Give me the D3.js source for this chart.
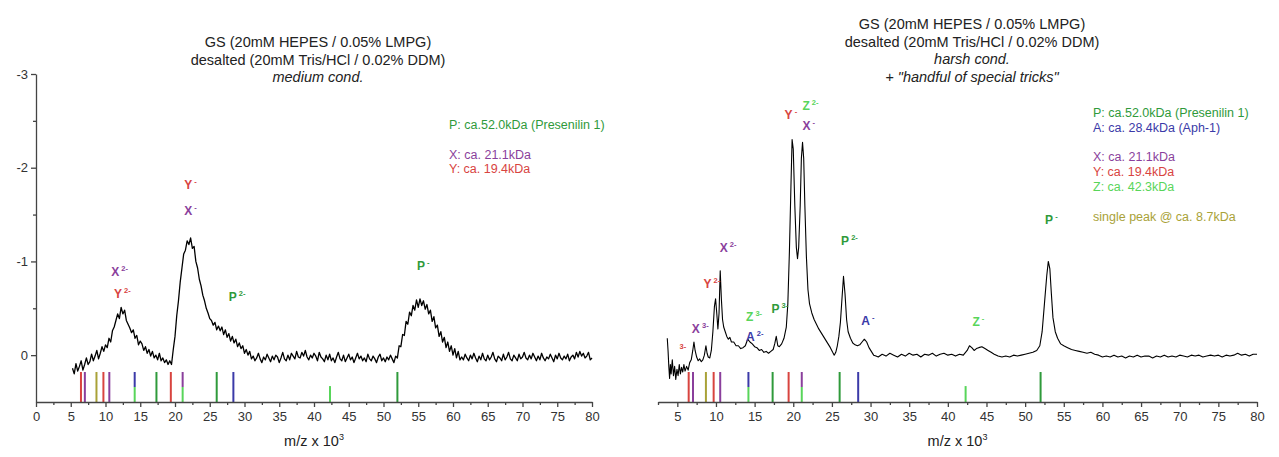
<!DOCTYPE html>
<html>
<head>
<meta charset="utf-8">
<script src="https://cdn.jsdelivr.net/npm/d3@7"></script>
<style>
  html, body { margin: 0; padding: 0; background: #fff; }
  svg { display: block; font-family: "Liberation Sans", Arial, sans-serif; }
  .axis path, .axis line { stroke: #444; stroke-width: 1.3; }
  .axis text { fill: #333; font-size: 13px; font-family: "Liberation Sans", Arial, sans-serif; }
  .title { fill: #222; font-size: 14.5px; text-anchor: middle; }
  .legend { font-size: 12.5px; }
  .peak { font-weight: bold; font-size: 12px; }
</style>
</head>
<body>
<svg id="chart" width="1279" height="457"></svg>
<script>
// ---- colours of the species ----
const colors = {
  P: "#2f9a3b",   // Presenilin 1
  A: "#3b3aa8",   // Aph-1
  X: "#8a3f9c",
  Y: "#d8443f",
  Z: "#58d55a",
  S: "#a9a238"    // single peak 8.7 kDa
};

// ---- left spectrum (medium cond.), rows of 4 samples, x = row + 0.25 .. row + 1 ----
const leftFirstRow = 5;
const leftRows = [
  [0.14, 0.2, 0.09, 0.17],      // 5
  [0.12, 0.06, 0.16, 0.1],      // 6
  [0.03, 0.1, 0.07, -0.01],     // 7
  [0.06, 0.01, -0.05, 0.04],    // 8
  [-0.02, -0.09, -0.04, -0.11], // 9
  [-0.08, -0.18, -0.14, -0.26], // 10
  [-0.3, -0.37, -0.44, -0.39],  // 11
  [-0.51, -0.44, -0.48, -0.37], // 12
  [-0.33, -0.29, -0.24, -0.27], // 13
  [-0.18, -0.21, -0.11, -0.15], // 14
  [-0.12, -0.05, -0.09, -0.02], // 15
  [-0.06, 0.01, -0.04, 0.03],   // 16
  [0.0, 0.05, -0.02, 0.06],     // 17
  [0.03, 0.08, 0.05, 0.1],      // 18
  [0.06, 0.1, -0.06, -0.2],     // 19
  [-0.42, -0.58, -0.78, -0.93], // 20
  [-1.08, -1.12, -1.22, -1.18], // 21
  [-1.25, -1.14, -1.16, -1.0],  // 22
  [-0.93, -0.81, -0.74, -0.64], // 23
  [-0.58, -0.5, -0.45, -0.39],  // 24
  [-0.37, -0.32, -0.35, -0.27], // 25
  [-0.31, -0.26, -0.3, -0.22],  // 26
  [-0.27, -0.19, -0.23, -0.15], // 27
  [-0.2, -0.13, -0.17, -0.09],  // 28
  [-0.13, -0.07, -0.1, -0.02],  // 29
  [-0.06, 0.0, -0.04, 0.04],    // 30
  [0.01, 0.06, 0.03, -0.02],    // 31
  [0.04, 0.08, 0.02, 0.05],     // 32
  [-0.01, 0.03, 0.07, 0.01],    // 33
  [0.05, 0.0, 0.02, 0.08],      // 34
  [0.03, -0.03, 0.04, 0.06],    // 35
  [0.0, 0.05, -0.02, 0.01],     // 36
  [0.04, -0.04, 0.02, 0.03],    // 37
  [-0.03, 0.01, -0.05, 0.02],   // 38
  [0.05, 0.0, 0.03, -0.02],     // 39
  [0.01, 0.06, -0.03, 0.02],    // 40
  [0.04, 0.07, 0.0, 0.05],      // 41
  [-0.01, 0.06, 0.03, 0.08],    // 42
  [0.02, -0.03, 0.04, 0.06],    // 43
  [0.0, 0.07, 0.03, -0.01],     // 44
  [0.05, 0.02, 0.08, 0.03],     // 45
  [-0.02, 0.04, 0.01, 0.06],    // 46
  [0.03, 0.07, -0.01, 0.04],    // 47
  [0.06, 0.01, 0.04, 0.08],     // 48
  [0.02, -0.01, 0.06, 0.03],    // 49
  [0.07, 0.02, 0.05, 0.0],      // 50
  [0.04, 0.08, 0.01, 0.03],     // 51
  [-0.1, -0.09, -0.22, -0.21],  // 52
  [-0.36, -0.33, -0.46, -0.42], // 53
  [-0.53, -0.48, -0.59, -0.51], // 54
  [-0.6, -0.53, -0.58, -0.49],  // 55
  [-0.54, -0.44, -0.48, -0.36], // 56
  [-0.41, -0.29, -0.32, -0.2],  // 57
  [-0.25, -0.14, -0.19, -0.08], // 58
  [-0.14, -0.04, -0.1, 0.0],    // 59
  [-0.07, 0.03, -0.04, 0.05],   // 60
  [0.02, 0.05, -0.01, 0.03],    // 61
  [0.06, 0.0, 0.04, -0.02],     // 62
  [0.03, 0.07, 0.01, 0.05],     // 63
  [-0.02, 0.04, 0.06, 0.0],     // 64
  [0.05, 0.02, -0.03, 0.04],    // 65
  [0.07, 0.01, 0.03, 0.06],     // 66
  [-0.01, 0.05, 0.02, -0.03],   // 67
  [0.04, 0.06, 0.0, 0.03],      // 68
  [0.06, -0.01, 0.04, 0.02],    // 69
  [-0.03, 0.03, 0.05, 0.0],     // 70
  [0.04, -0.02, 0.02, 0.06],    // 71
  [0.01, 0.05, -0.02, 0.03],    // 72
  [0.06, 0.02, 0.04, -0.01],    // 73
  [0.03, 0.07, 0.0, 0.04],      // 74
  [-0.02, 0.03, 0.05, 0.01],    // 75
  [0.04, -0.01, 0.06, 0.02],    // 76
  [0.0, 0.04, -0.03, 0.02],     // 77
  [-0.04, 0.01, -0.02, 0.03],   // 78
  [0.01, -0.03, 0.05, 0.03]     // 79
];

// ---- right spectrum (harsh cond.), [m/z x 10^3, signal] ----
const rightTrace = [
  [3.7, -0.18], [3.8, -0.05], [3.9, 0.12], [4.0, 0.25], [4.1, 0.1], [4.2, 0.2], [4.35, 0.05],
  [4.5, 0.22], [4.65, 0.12], [4.8, 0.26], [4.95, 0.15], [5.1, 0.22], [5.25, 0.1], [5.4, 0.2],
  [5.55, 0.13], [5.7, 0.18], [5.85, 0.1], [6.0, 0.17], [6.2, 0.12], [6.4, 0.16], [6.6, 0.08],
  [6.8, 0.05], [7.0, -0.05], [7.15, -0.14], [7.3, -0.05], [7.5, 0.02], [7.7, 0.06], [7.9, 0.04],
  [8.1, 0.07], [8.3, 0.05], [8.5, 0.0], [8.7, -0.1], [8.85, -0.02], [9.0, 0.02], [9.2, 0.03],
  [9.4, -0.05], [9.6, -0.25], [9.8, -0.52], [9.95, -0.6], [10.1, -0.45], [10.25, -0.28],
  [10.4, -0.45], [10.55, -0.9], [10.7, -0.6], [10.85, -0.38], [11.0, -0.3], [11.2, -0.25],
  [11.4, -0.2], [11.6, -0.17], [11.8, -0.19], [12.0, -0.14], [12.3, -0.14], [12.6, -0.1],
  [12.9, -0.1], [13.2, -0.07], [13.5, -0.08], [13.8, -0.1], [14.1, -0.17], [14.4, -0.14],
  [14.7, -0.12], [15.0, -0.09], [15.3, -0.08], [15.6, -0.05], [15.9, -0.06], [16.2, -0.03],
  [16.5, -0.04], [16.8, -0.02], [17.1, -0.04], [17.4, -0.06], [17.6, -0.12], [17.8, -0.2],
  [18.0, -0.1], [18.2, -0.09], [18.5, -0.12], [18.8, -0.18], [19.1, -0.3], [19.3, -0.55],
  [19.5, -1.1], [19.7, -1.8], [19.85, -2.3], [20.0, -2.2], [20.2, -1.6], [20.4, -1.15],
  [20.55, -1.03], [20.7, -1.15], [20.9, -1.6], [21.05, -2.1], [21.2, -2.27], [21.35, -2.1],
  [21.5, -1.6], [21.7, -1.05], [21.9, -0.7], [22.1, -0.55], [22.4, -0.45], [22.7, -0.38],
  [23.0, -0.33], [23.3, -0.28], [23.6, -0.24], [23.9, -0.2], [24.2, -0.16], [24.5, -0.12],
  [24.8, -0.08], [25.1, -0.03], [25.3, 0.0], [25.5, -0.03], [25.7, -0.1], [25.9, -0.2],
  [26.1, -0.35], [26.3, -0.6], [26.5, -0.84], [26.7, -0.65], [26.9, -0.38], [27.1, -0.25],
  [27.4, -0.18], [27.7, -0.13], [28.0, -0.11], [28.3, -0.1], [28.6, -0.11], [28.9, -0.14],
  [29.2, -0.17], [29.5, -0.14], [29.8, -0.08], [30.1, -0.04], [30.4, 0.0], [30.7, 0.01],
  [31.0, 0.02], [31.5, -0.01], [32.0, 0.01], [32.5, -0.02], [33.0, 0.0], [33.5, 0.02],
  [34.0, -0.01], [34.5, 0.01], [35.0, -0.02], [35.5, 0.0], [36.0, -0.01], [36.5, 0.02],
  [37.0, -0.01], [37.5, 0.0], [38.0, -0.02], [38.5, 0.01], [39.0, -0.01], [39.5, -0.02],
  [40.0, 0.0], [40.5, -0.01], [41.0, 0.01], [41.5, -0.01], [42.0, 0.0], [42.5, -0.05],
  [42.8, -0.1], [43.1, -0.08], [43.4, -0.05], [43.7, -0.07], [44.0, -0.08], [44.4, -0.09],
  [44.8, -0.07], [45.2, -0.05], [45.6, -0.03], [46.0, -0.01], [46.5, 0.01], [47.0, 0.02],
  [47.5, 0.01], [48.0, 0.02], [48.5, 0.0], [49.0, 0.01], [49.5, 0.0], [50.0, -0.01],
  [50.5, -0.02], [51.0, -0.03], [51.5, -0.05], [51.9, -0.1], [52.2, -0.25], [52.5, -0.55],
  [52.8, -0.85], [53.0, -1.0], [53.2, -0.92], [53.4, -0.65], [53.6, -0.4], [53.9, -0.25],
  [54.2, -0.18], [54.6, -0.12], [55.0, -0.1], [55.5, -0.08], [56.0, -0.06], [56.5, -0.05],
  [57.0, -0.04], [57.5, -0.03], [58.0, -0.02], [58.5, -0.03], [59.0, -0.01], [59.5, 0.0],
  [60.0, 0.02], [60.5, 0.01], [61.0, 0.02], [61.5, 0.0], [62.0, 0.02], [62.5, 0.01],
  [63.0, 0.03], [63.5, 0.01], [64.0, 0.02], [64.5, 0.0], [65.0, 0.02], [65.5, 0.01],
  [66.0, 0.01], [66.5, 0.03], [67.0, 0.01], [67.5, 0.02], [68.0, 0.0], [68.5, 0.02],
  [69.0, 0.01], [69.5, 0.02], [70.0, 0.0], [70.5, 0.01], [71.0, 0.02], [71.5, 0.0],
  [72.0, 0.01], [72.5, 0.0], [73.0, 0.02], [73.5, 0.01], [74.0, 0.0], [74.5, 0.01],
  [75.0, 0.0], [75.5, 0.02], [76.0, 0.0], [76.5, 0.01], [77.0, 0.0], [77.5, -0.02],
  [78.0, 0.0], [78.5, -0.01], [79.0, 0.01], [79.5, -0.01], [80.0, -0.01]
];

// ---- theoretical positions (bars above the x axis) ----
const markers = [
  { x: 6.47, c: "Y" }, { x: 7.03, c: "X" }, { x: 8.7, c: "S" }, { x: 9.7, c: "Y" },
  { x: 10.55, c: "X" }, { x: 14.2, c: "A", low: "Z" }, { x: 17.33, c: "P" }, { x: 19.4, c: "Y" },
  { x: 21.1, c: "X", low: "Z" }, { x: 26.0, c: "P" }, { x: 28.4, c: "A" },
  { x: 42.3, c: "Z", short: true }, { x: 52.0, c: "P" }
];

// ---- peak annotations ----
const leftPeaks = [
  { x: 21.9, v: -1.82, t: "Y", s: "-", c: "Y" },
  { x: 21.9, v: -1.54, t: "X", s: "-", c: "X" },
  { x: 11.4, v: -0.89, t: "X", s: "2-", c: "X" },
  { x: 11.8, v: -0.65, t: "Y", s: "2-", c: "Y" },
  { x: 28.3, v: -0.62, t: "P", s: "2-", c: "P" },
  { x: 55.4, v: -0.95, t: "P", s: "-", c: "P" }
];
const rightPeaks = [
  { x: 19.4, v: -2.56, t: "Y", s: "-", c: "Y" },
  { x: 21.7, v: -2.66, t: "Z", s: "2-", c: "Z" },
  { x: 21.7, v: -2.45, t: "X", s: "-", c: "X" },
  { x: 11.0, v: -1.14, t: "X", s: "2-", c: "X" },
  { x: 8.9, v: -0.76, t: "Y", s: "2-", c: "Y" },
  { x: 7.4, v: -0.28, t: "X", s: "3-", c: "X" },
  { x: 5.8, v: -0.06, t: "", s: "3-", c: "Y" },
  { x: 14.4, v: -0.41, t: "Z", s: "3-", c: "Z" },
  { x: 17.7, v: -0.49, t: "P", s: "3-", c: "P" },
  { x: 14.4, v: -0.19, t: "A", s: "2-", c: "A" },
  { x: 26.7, v: -1.22, t: "P", s: "2-", c: "P" },
  { x: 29.3, v: -0.36, t: "A", s: "-", c: "A" },
  { x: 43.7, v: -0.35, t: "Z", s: "-", c: "Z" },
  { x: 53.1, v: -1.44, t: "P", s: "-", c: "P" }
];

// ---- legends and titles ----
const leftLegend = [
  ["P: ca.52.0kDa (Presenilin 1)", "P"], null,
  ["X: ca. 21.1kDa", "X"], ["Y: ca. 19.4kDa", "Y"]
];
const rightLegend = [
  ["P: ca.52.0kDa (Presenilin 1)", "P"], ["A: ca. 28.4kDa (Aph-1)", "A"], null,
  ["X: ca. 21.1kDa", "X"], ["Y: ca. 19.4kDa", "Y"], ["Z: ca. 42.3kDa", "Z"], null,
  ["single peak @ ca. 8.7kDa", "S"]
];
const leftTitle = [
  ["GS (20mM HEPES / 0.05% LMPG)", false],
  ["desalted (20mM Tris/HCl / 0.02% DDM)", false],
  ["medium cond.", true]
];
const rightTitle = [
  ["GS (20mM HEPES / 0.05% LMPG)", false],
  ["desalted (20mM Tris/HCl / 0.02% DDM)", false],
  ["harsh cond.", true],
  ["+ \"handful of special tricks\"", true]
];
const majorX = d3.range(0, 81, 5);
const minorX = d3.range(2.5, 80, 5);
const majorY = [-3, -2, -1, 0];
const minorY = [-2.5, -1.5, -0.5];

// ===== drawing =====
const svg = d3.select("#chart");
svg.append("rect").attr("width", 1279).attr("height", 457).attr("fill", "#fff");

const y = d3.scaleLinear().domain([0.5, -3]).range([402, 74]);
const xL = d3.scaleLinear().domain([0, 80]).range([36, 592]);
const xR = d3.scaleLinear().domain([2.5, 80]).range([658, 1257]);

const leftTrace = [];
leftRows.forEach((row, r) => row.forEach((v, j) => {
  leftTrace.push([leftFirstRow + r + 0.25 * (j + 1), v]);
}));

function panel(x, trace, lineW, peaks, legend, legendX, legendY, title, titleX, titleY, withYAxis) {
  const g = svg.append("g");

  // markers
  const mTop = 0.18, mSplit = 0.34, mShort = 0.33;
  markers.forEach(m => {
    const top = m.short ? mShort : mTop;
    if (m.low) {
      g.append("line").attr("x1", x(m.x)).attr("x2", x(m.x)).attr("y1", y(top)).attr("y2", y(mSplit))
        .attr("stroke", colors[m.c]).attr("stroke-width", 2);
      g.append("line").attr("x1", x(m.x)).attr("x2", x(m.x)).attr("y1", y(mSplit)).attr("y2", y(0.5))
        .attr("stroke", colors[m.low]).attr("stroke-width", 2);
    } else {
      g.append("line").attr("x1", x(m.x)).attr("x2", x(m.x)).attr("y1", y(top)).attr("y2", y(0.5))
        .attr("stroke", colors[m.c]).attr("stroke-width", 2);
    }
  });

  // spectrum
  const line = d3.line().x(d => x(d[0])).y(d => y(d[1]));
  g.append("path").datum(trace).attr("d", line)
    .attr("fill", "none").attr("stroke", "#000").attr("stroke-width", lineW)
    .attr("stroke-linejoin", "round");

  // x axis
  g.append("g").attr("class", "axis").attr("transform", "translate(0,402)")
    .call(d3.axisBottom(x).tickValues(majorX.filter(v => v >= x.domain()[0]))
      .tickSize(5).tickSizeOuter(0).tickPadding(5).tickFormat(d => String(d)));
  g.append("g").attr("class", "axis").attr("transform", "translate(0,402)")
    .call(d3.axisBottom(x).tickValues(minorX).tickSize(3).tickFormat(""))
    .select(".domain").remove();

  if (withYAxis) {
    g.append("g").attr("class", "axis").attr("transform", `translate(${x.range()[0]},0)`)
      .call(d3.axisLeft(y).tickValues(majorY).tickSize(5).tickSizeOuter(0).tickPadding(3)
        .tickFormat(d => String(d)));
    g.append("g").attr("class", "axis").attr("transform", `translate(${x.range()[0]},0)`)
      .call(d3.axisLeft(y).tickValues(minorY).tickSize(3).tickFormat(""))
      .select(".domain").remove();
  }

  // axis title
  const cx = (x.range()[0] + x.range()[1]) / 2;
  const at = g.append("text").attr("x", cx).attr("y", 446).attr("text-anchor", "middle")
    .attr("fill", "#222").style("font-size", "14.5px");
  at.append("tspan").text("m/z x 10");
  at.append("tspan").attr("dy", -6).style("font-size", "9px").text("3");

  // title
  title.forEach((t, i) => {
    g.append("text").attr("class", "title").attr("x", titleX).attr("y", titleY + i * 17.5)
      .style("font-style", t[1] ? "italic" : "normal").text(t[0]);
  });

  // legend
  legend.forEach((l, i) => {
    if (!l) return;
    g.append("text").attr("class", "legend").attr("x", legendX).attr("y", legendY + i * 14.8)
      .attr("fill", colors[l[1]]).text(l[0]);
  });

  // peak labels
  peaks.forEach(p => {
    const t = g.append("text").attr("class", "peak").attr("x", x(p.x) - 4).attr("y", y(p.v) + 4)
      .attr("fill", colors[p.c]);
    t.append("tspan").text(p.t);
    t.append("tspan").attr("dy", -5).style("font-size", "7.5px").text(" " + p.s);
  });
}

panel(xL, leftTrace, 1.3, leftPeaks, leftLegend, 449, 129, leftTitle, 318, 47, true);
panel(xR, rightTrace, 1.1, rightPeaks, rightLegend, 1093, 117, rightTitle, 972, 29, false);
</script>
</body>
</html>
